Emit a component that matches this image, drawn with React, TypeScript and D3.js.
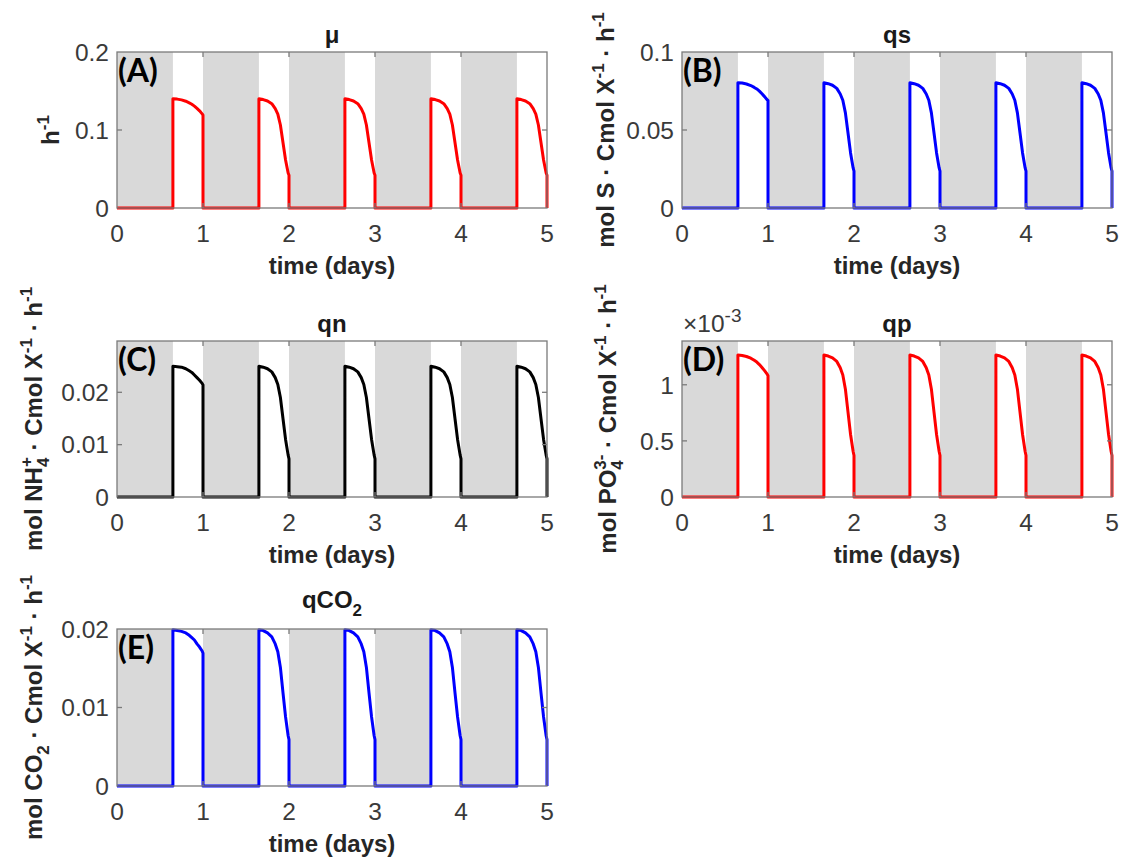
import * as d3 from "d3";
import React, { useRef, useEffect } from "react";

// time axis (days); dark phase runs from the start of each day until lights on
const days = [0, 1, 2, 3, 4];
const xTicks = [0, 1, 2, 3, 4, 5];
const lightsOn = 0.65;
const lightTimes = [0.65, 0.7, 0.75, 0.8, 0.84, 0.87, 0.9, 0.93, 0.96, 0.99, 1.0];

// one row per day, values at lightTimes
const muValues = [
  [0.14, 0.1396, 0.1386, 0.1369, 0.1348, 0.133, 0.1306, 0.1277, 0.1246, 0.1207, 0.119],
  [0.14, 0.139, 0.1372, 0.1337, 0.1274, 0.1204, 0.1064, 0.084, 0.0616, 0.0448, 0.042],
  [0.14, 0.139, 0.1372, 0.1337, 0.1274, 0.1204, 0.1064, 0.084, 0.0616, 0.0448, 0.042],
  [0.14, 0.139, 0.1372, 0.1337, 0.1274, 0.1204, 0.1064, 0.084, 0.0616, 0.0448, 0.042],
  [0.14, 0.139, 0.1372, 0.1337, 0.1274, 0.1204, 0.1064, 0.084, 0.0616, 0.0448, 0.042],
];
const qsValues = [
  [0.0803, 0.0801, 0.0795, 0.0785, 0.0773, 0.0763, 0.0749, 0.0732, 0.0714, 0.0694, 0.069],
  [0.0803, 0.0797, 0.0787, 0.0767, 0.0731, 0.0691, 0.061, 0.0482, 0.0353, 0.0257, 0.0237],
  [0.0803, 0.0797, 0.0787, 0.0767, 0.0731, 0.0691, 0.061, 0.0482, 0.0353, 0.0257, 0.0237],
  [0.0803, 0.0797, 0.0787, 0.0767, 0.0731, 0.0691, 0.061, 0.0482, 0.0353, 0.0257, 0.0237],
  [0.0803, 0.0797, 0.0787, 0.0767, 0.0731, 0.0691, 0.061, 0.0482, 0.0353, 0.0257, 0.0237],
];
const qnValues = [
  [0.025, 0.0249, 0.0248, 0.0245, 0.0241, 0.0238, 0.0233, 0.0228, 0.0223, 0.0217, 0.0214],
  [0.025, 0.0248, 0.0245, 0.0239, 0.0228, 0.0215, 0.019, 0.015, 0.011, 0.008, 0.0073],
  [0.025, 0.0248, 0.0245, 0.0239, 0.0228, 0.0215, 0.019, 0.015, 0.011, 0.008, 0.0073],
  [0.025, 0.0248, 0.0245, 0.0239, 0.0228, 0.0215, 0.019, 0.015, 0.011, 0.008, 0.0073],
  [0.025, 0.0248, 0.0245, 0.0239, 0.0228, 0.0215, 0.019, 0.015, 0.011, 0.008, 0.0073],
];
// qp in units of 1e-3
const qpValues = [
  [1.265, 1.261, 1.252, 1.237, 1.218, 1.202, 1.18, 1.154, 1.126, 1.095, 1.08],
  [1.265, 1.256, 1.24, 1.208, 1.151, 1.088, 0.961, 0.759, 0.557, 0.405, 0.37],
  [1.265, 1.256, 1.24, 1.208, 1.151, 1.088, 0.961, 0.759, 0.557, 0.405, 0.37],
  [1.265, 1.256, 1.24, 1.208, 1.151, 1.088, 0.961, 0.759, 0.557, 0.405, 0.37],
  [1.265, 1.256, 1.24, 1.208, 1.151, 1.088, 0.961, 0.759, 0.557, 0.405, 0.37],
];
const qco2Values = [
  [0.0199, 0.0198, 0.0197, 0.0195, 0.0192, 0.0189, 0.0186, 0.0181, 0.0177, 0.0172, 0.0169],
  [0.0199, 0.0198, 0.0195, 0.019, 0.0181, 0.0171, 0.0151, 0.0119, 0.0088, 0.0064, 0.0059],
  [0.0199, 0.0198, 0.0195, 0.019, 0.0181, 0.0171, 0.0151, 0.0119, 0.0088, 0.0064, 0.0059],
  [0.0199, 0.0198, 0.0195, 0.019, 0.0181, 0.0171, 0.0151, 0.0119, 0.0088, 0.0064, 0.0059],
  [0.0199, 0.0198, 0.0195, 0.019, 0.0181, 0.0171, 0.0151, 0.0119, 0.0088, 0.0064, 0.0059],
];

const muTicks = [0, 0.1, 0.2];
const qsTicks = [0, 0.05, 0.1];
const qnTicks = [0, 0.01, 0.02];
const qpTicks = [0, 0.5, 1];
const qco2Ticks = [0, 0.01, 0.02];

// [text, baseline shift, small size?, dx]
type Seg = [string, number, number?, number?];

type PanelCfg = {
  letter: string;
  title: Seg[];
  ylabel: Seg[];
  values: number[][];
  ticks: number[];
  yMax: number;
  color: string;
  left: number;
  top: number;
  h: number;
  labelX: number;
  exponent?: string;
};

const W = 430;
const tickFont = 24.5;
const labelFont = 24;
const sm = 17;
const back4 = -0.556 * sm;

const panels: PanelCfg[] = [
  {
    letter: "(A)", title: [["μ", 0]], ylabel: [["h", 0], ["-1", -10, sm]],
    values: muValues, ticks: muTicks, yMax: 0.2, color: "#ff0000",
    left: 117, top: 52, h: 156, labelX: 59,
  },
  {
    letter: "(B)", title: [["qs", 0]],
    ylabel: [["mol S · Cmol X", 0], ["-1", -10, sm], [" · h", 0], ["-1", -10, sm]],
    values: qsValues, ticks: qsTicks, yMax: 0.1, color: "#0000ff",
    left: 682, top: 52, h: 156, labelX: 614,
  },
  {
    letter: "(C)", title: [["qn", 0]],
    ylabel: [["mol NH", 0], ["4", 7, sm], ["+", -10, sm, back4], [" · Cmol X", 0], ["-1", -10, sm], [" · h", 0], ["-1", -10, sm]],
    values: qnValues, ticks: qnTicks, yMax: 0.0298, color: "#000000",
    left: 117, top: 341, h: 156, labelX: 42,
  },
  {
    letter: "(D)", title: [["qp", 0]],
    ylabel: [["mol PO", 0], ["4", 7, sm], ["3-", -10, sm, back4], [" · Cmol X", 0], ["-1", -10, sm], [" · h", 0], ["-1", -10, sm]],
    values: qpValues, ticks: qpTicks, yMax: 1.39, color: "#ff0000",
    left: 682, top: 341, h: 156, labelX: 616, exponent: "-3",
  },
  {
    letter: "(E)", title: [["qCO", 0], ["2", 8, sm]],
    ylabel: [["mol CO", 0], ["2", 7, sm], [" · Cmol X", 0], ["-1", -10, sm], [" · h", 0], ["-1", -10, sm]],
    values: qco2Values, ticks: qco2Ticks, yMax: 0.02, color: "#0000ff",
    left: 117, top: 629, h: 157, labelX: 42,
  },
];

const buildSeries = (cycles: number[][]) => {
  const pts: [number, number][] = [[0, 0]];
  days.forEach((d, i) => {
    pts.push([d + lightsOn, 0]);
    lightTimes.forEach((t, j) => pts.push([d + t, cycles[i][j]]));
    pts.push([d + 1, 0]);
  });
  return pts;
};

const addSegs = (text: any, segs: Seg[], size: number) => {
  let shift = 0;
  segs.forEach(([s, off, smallSize, dx]) => {
    const ts = text.append("tspan").attr("dy", off - shift).text(s);
    ts.attr("font-size", smallSize || size);
    if (dx) ts.attr("dx", dx);
    shift = off;
  });
};

const App: React.FC = () => {
  const svgRef = useRef<SVGSVGElement>(null);

  useEffect(() => {
    if (!svgRef.current) return;
    const svg = d3.select(svgRef.current);
    svg.selectAll("*").remove();

    panels.forEach((p) => {
      const x = d3.scaleLinear().domain([0, 5]).range([p.left, p.left + W]);
      const y = d3.scaleLinear().domain([0, p.yMax]).range([p.top + p.h, p.top]);
      const g = svg.append("g");

      // dark phases
      g.selectAll("rect.night")
        .data(days)
        .join("rect")
        .attr("class", "night")
        .attr("x", (d) => x(d))
        .attr("y", p.top)
        .attr("width", (d) => x(d + lightsOn) - x(d))
        .attr("height", p.h)
        .attr("fill", "#d9d9d9");

      const line = d3
        .line<[number, number]>()
        .x((d) => x(d[0]))
        .y((d) => y(d[1]));

      g.append("path")
        .datum(buildSeries(p.values))
        .attr("fill", "none")
        .attr("stroke", p.color)
        .attr("stroke-width", 3)
        .attr("stroke-linejoin", "round")
        .attr("d", line);

      // box + inward ticks
      const axisColor = "#7a7a7a";
      g.append("rect")
        .attr("x", p.left)
        .attr("y", p.top)
        .attr("width", W)
        .attr("height", p.h)
        .attr("fill", "none")
        .attr("stroke", axisColor)
        .attr("stroke-width", 1.3);

      const tl = 5;
      xTicks.slice(1, -1).forEach((t) => {
        g.append("line").attr("x1", x(t)).attr("x2", x(t))
          .attr("y1", p.top + p.h).attr("y2", p.top + p.h - tl)
          .attr("stroke", axisColor).attr("stroke-width", 1.3);
        g.append("line").attr("x1", x(t)).attr("x2", x(t))
          .attr("y1", p.top).attr("y2", p.top + tl)
          .attr("stroke", axisColor).attr("stroke-width", 1.3);
      });
      p.ticks.forEach((t) => {
        if (t === 0 || y(t) <= p.top + 1) return;
        g.append("line").attr("x1", p.left).attr("x2", p.left + tl)
          .attr("y1", y(t)).attr("y2", y(t))
          .attr("stroke", axisColor).attr("stroke-width", 1.3);
        g.append("line").attr("x1", p.left + W).attr("x2", p.left + W - tl)
          .attr("y1", y(t)).attr("y2", y(t))
          .attr("stroke", axisColor).attr("stroke-width", 1.3);
      });

      // tick labels
      g.selectAll("text.xt")
        .data(xTicks)
        .join("text")
        .attr("class", "xt")
        .attr("x", (d) => x(d))
        .attr("y", p.top + p.h + 34)
        .attr("text-anchor", "middle")
        .attr("font-size", tickFont)
        .attr("fill", "#3a3a3a")
        .text((d) => String(d));

      g.selectAll("text.yt")
        .data(p.ticks)
        .join("text")
        .attr("class", "yt")
        .attr("x", p.left - 8)
        .attr("y", (d) => y(d))
        .attr("dy", "0.36em")
        .attr("text-anchor", "end")
        .attr("font-size", tickFont)
        .attr("fill", "#3a3a3a")
        .text((d) => String(d));

      if (p.exponent) {
        const ex = g.append("text")
          .attr("x", p.left + 1)
          .attr("y", p.top - 9)
          .attr("font-size", tickFont)
          .attr("fill", "#3a3a3a");
        addSegs(ex, [["×10", 0], [p.exponent, -10, 19]], tickFont);
      }

      // x label
      g.append("text")
        .attr("x", p.left + W / 2)
        .attr("y", p.top + p.h + 66)
        .attr("text-anchor", "middle")
        .attr("font-size", labelFont)
        .attr("font-weight", "bold")
        .attr("fill", "#262626")
        .text("time (days)");

      // title
      const title = g.append("text")
        .attr("x", p.left + W / 2)
        .attr("y", p.title.length > 1 ? p.top - 21 : p.top - 9)
        .attr("text-anchor", "middle")
        .attr("font-weight", "bold")
        .attr("fill", "#1a1a1a");
      addSegs(title, p.title, labelFont);

      // y label
      const yl = g.append("text")
        .attr("transform", `translate(${p.labelX}, ${p.top + p.h / 2}) rotate(-90)`)
        .attr("text-anchor", "middle")
        .attr("font-weight", "bold")
        .attr("fill", "#262626")
        .style("white-space", "pre");
      addSegs(yl, p.ylabel, labelFont);

      // panel letter
      g.append("text")
        .attr("x", p.left + 1)
        .attr("y", p.top + 30)
        .attr("font-family", "Lato")
        .attr("font-weight", "bold")
        .attr("font-size", 32)
        .attr("fill", "#000")
        .text(p.letter);
    });
  }, []);

  return (
    <svg
      ref={svgRef}
      width={1123}
      height={861}
      style={{
        position: "absolute",
        left: 0,
        top: 0,
        background: "#fff",
        fontFamily: "'Liberation Sans', Arial, sans-serif",
      }}
    ></svg>
  );
};

export default App;
